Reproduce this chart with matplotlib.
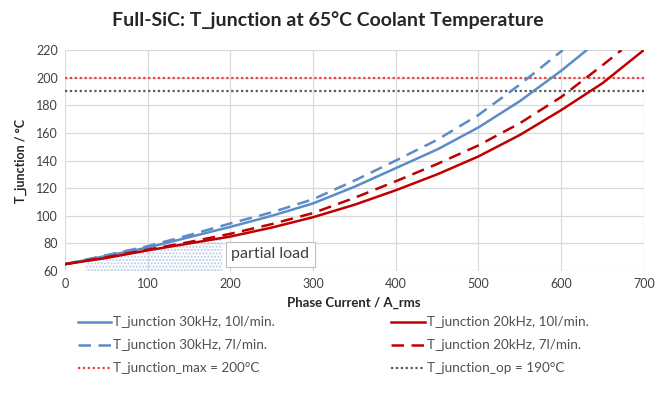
import numpy as np
import matplotlib
matplotlib.use("Agg")
import matplotlib.pyplot as plt

plt.rcParams['font.family'] = ['Lato', 'DejaVu Sans']

# ------------------------------
# Daten
x_b10 = [0, 50, 100, 150, 200, 250, 300, 350, 400, 450, 500, 550, 600, 631]
t_b10 = [65, 71, 77, 84.5, 92, 100, 109, 121, 134.5, 148, 164, 183, 205, 220]

x_b7 = [0, 50, 100, 150, 200, 250, 300, 350, 400, 450, 500, 550, 602]
t_b7 = [65, 71.5, 78, 86, 94.5, 102.5, 112, 125.5, 140, 155, 173, 195, 220]

x_r10 = [0, 50, 100, 150, 200, 250, 300, 350, 400, 450, 500, 550, 600, 650, 700]
t_r10 = [65, 69.5, 75, 80, 85, 91.5, 99, 108, 118.5, 130, 143, 158.5, 176.5, 196, 220]

x_r7 = [0, 50, 100, 150, 200, 250, 300, 350, 400, 450, 500, 550, 600, 650, 673]
t_r7 = [65, 70, 75.5, 81, 87, 94, 102, 113, 125, 137.5, 151, 167, 186, 209, 220]

t_max = 200
t_op = 190

# Teillastbereich
partial_x = [25, 50, 100, 150, 190]
partial_top = [67, 69.5, 75, 80, 84]

labels = ['T_junction 30kHz, 10l/min.', 'T_junction 30kHz, 7l/min.', 'T_junction_max = 200°C',
          'T_junction 20kHz, 10l/min.', 'T_junction 20kHz, 7l/min.', 'T_junction_op = 190°C']

blau = '#5B8CC8'
rot = '#C00000'

# ------------------------------
fig = plt.figure(figsize=(6.57, 3.94), dpi=100)
ax = fig.add_axes([0.099, 0.312, 0.881, 0.561])

ax.fill_between(partial_x, 60, partial_top, facecolor='none', edgecolor='#B3CBE8',
                hatch='.....', linewidth=0)

ax.axhline(t_max, color='#F03C3C', linestyle=(0, (1, 1.2)), linewidth=1.6)
ax.axhline(t_op, color='#595959', linestyle=(0, (1, 1.2)), linewidth=1.6)

l1, = ax.plot(x_b10, t_b10, color=blau, lw=1.8)
l2, = ax.plot(x_b7, t_b7, color=blau, lw=1.8, ls=(0, (5, 3)))
l4, = ax.plot(x_r10, t_r10, color=rot, lw=1.8)
l5, = ax.plot(x_r7, t_r7, color=rot, lw=1.8, ls=(0, (5, 3)))
l3, = ax.plot([], [], color='#F03C3C', linestyle=(0, (1, 1.2)), lw=1.6)
l6, = ax.plot([], [], color='#595959', linestyle=(0, (1, 1.2)), lw=1.6)

ax.text(248, 72, 'partial load', ha='center', va='center', fontsize=11.5, color='#404040',
        bbox=dict(boxstyle='square,pad=0.35', facecolor='white', edgecolor='#BFBFBF', linewidth=0.8))

ax.set_xlim(0, 700)
ax.set_ylim(60, 220)
ax.set_xticks(range(0, 701, 100))
ax.set_yticks(range(60, 221, 20))
ax.grid(True, color='#D9D9D9', linewidth=0.9)
ax.set_axisbelow(True)
for s in ax.spines.values():
    s.set_visible(False)
ax.tick_params(length=0, labelsize=9, colors='#404040', pad=5)

ax.set_ylabel('T_junction / °C', fontsize=9, fontweight='bold', color='#262626', labelpad=7)
fig.text(354 / 657, 1 - 303 / 394, 'Phase Current / A_rms', ha='center', va='center',
         fontsize=9.5, fontweight='bold', color='#262626')
fig.text(328 / 657, 1 - 20 / 394, 'Full-SiC: T_junction at 65°C Coolant Temperature',
         ha='center', va='center', fontsize=14, fontweight='bold', color='#262626')

fig.legend([l1, l2, l3, l4, l5, l6], labels,
           ncol=2, loc='upper left', bbox_to_anchor=(0.118, 0.197), frameon=False,
           fontsize=9.7, handlelength=2.5, handletextpad=0.15, columnspacing=8.6,
           labelspacing=0.82, labelcolor='#505050', borderpad=0, borderaxespad=0)

fig.savefig('out.png', dpi=100)
